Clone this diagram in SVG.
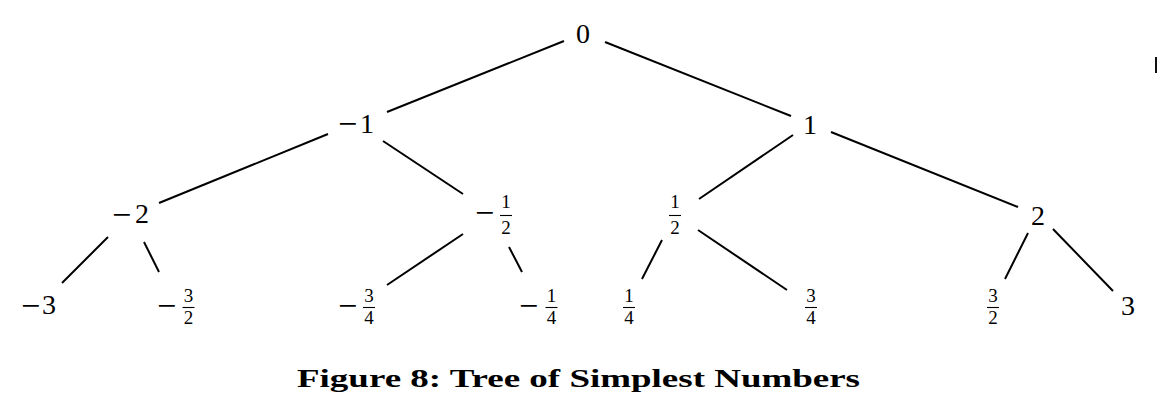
<svg xmlns="http://www.w3.org/2000/svg" width="1161" height="404" viewBox="0 0 1161 404">
<style>
.n{font-family:"Liberation Serif","Times New Roman",serif;font-size:28px;fill:#000}
.m{font-family:"Liberation Serif","Times New Roman",serif;font-size:34px;fill:#000}
.f{font-family:"Liberation Serif","Times New Roman",serif;font-size:19px;fill:#000;text-anchor:middle}
.c{font-family:"Liberation Serif","Times New Roman",serif;font-size:26px;font-weight:bold;fill:#000}
.e line{stroke:#000;stroke-width:2;stroke-linecap:butt}
.bar{stroke:#000;stroke-width:1.1}
</style>
<rect width="1161" height="404" fill="#fff"/>
<g id="connectors" class="e">
<line x1="564" y1="41" x2="387" y2="112"/>
<line x1="605" y1="42" x2="791" y2="116"/>
<line x1="328" y1="134" x2="159" y2="203"/>
<line x1="383" y1="141" x2="463" y2="194"/>
<line x1="793" y1="135" x2="699" y2="199"/>
<line x1="831" y1="132" x2="1018" y2="207"/>
<line x1="108" y1="237" x2="62" y2="283"/>
<line x1="144" y1="242" x2="159" y2="272"/>
<line x1="463" y1="234" x2="387" y2="285"/>
<line x1="509" y1="247" x2="522" y2="272"/>
<line x1="662" y1="240" x2="642" y2="279"/>
<line x1="698" y1="230" x2="787" y2="290"/>
<line x1="1028" y1="233" x2="1005" y2="279"/>
<line x1="1053" y1="229" x2="1113" y2="291"/>
</g>
<g id="n0"><text class="n" x="583" y="43" text-anchor="middle">0</text></g>
<g id="nm1"><text class="m" x="338" y="135">−</text><text class="n" x="360" y="133">1</text></g>
<g id="n1"><text class="n" x="810" y="134" text-anchor="middle">1</text></g>
<g id="nm2"><text class="m" x="112" y="226">−</text><text class="n" x="135" y="223">2</text></g>
<g id="nm12"><text class="m" x="475" y="224">−</text><text class="f" x="506" y="208">1</text><line class="bar" x1="500" y1="215.5" x2="512" y2="215.5"/><text class="f" x="506" y="234">2</text></g>
<g id="n12"><text class="f" x="675" y="208">1</text><line class="bar" x1="669" y1="215.5" x2="681" y2="215.5"/><text class="f" x="675" y="234">2</text></g>
<g id="n2"><text class="n" x="1038" y="225" text-anchor="middle">2</text></g>
<g id="nm3"><text class="m" x="21" y="317">−</text><text class="n" x="42" y="314">3</text></g>
<g id="nm32"><text class="m" x="157" y="317">−</text><text class="f" x="188.5" y="302">3</text><line class="bar" x1="182.5" y1="307.5" x2="194.5" y2="307.5"/><text class="f" x="188.5" y="324">2</text></g>
<g id="nm34"><text class="m" x="338" y="317">−</text><text class="f" x="369" y="302">3</text><line class="bar" x1="363" y1="307.5" x2="375" y2="307.5"/><text class="f" x="369" y="324">4</text></g>
<g id="nm14"><text class="m" x="519" y="317">−</text><text class="f" x="551.5" y="302">1</text><line class="bar" x1="545.5" y1="307.5" x2="557.5" y2="307.5"/><text class="f" x="551.5" y="324">4</text></g>
<g id="n14"><text class="f" x="629" y="302">1</text><line class="bar" x1="623" y1="307.5" x2="635" y2="307.5"/><text class="f" x="629" y="324">4</text></g>
<g id="n34"><text class="f" x="811" y="302">3</text><line class="bar" x1="805" y1="307.5" x2="817" y2="307.5"/><text class="f" x="811" y="324">4</text></g>
<g id="n32"><text class="f" x="993" y="302">3</text><line class="bar" x1="987" y1="307.5" x2="999" y2="307.5"/><text class="f" x="993" y="324">2</text></g>
<g id="n3"><text class="n" x="1128" y="315" text-anchor="middle">3</text></g>
<rect x="1155" y="57" width="2" height="16" fill="#111"/>
<text class="c" x="297" y="387" textLength="563" lengthAdjust="spacingAndGlyphs">Figure 8: Tree of Simplest Numbers</text>
</svg>
